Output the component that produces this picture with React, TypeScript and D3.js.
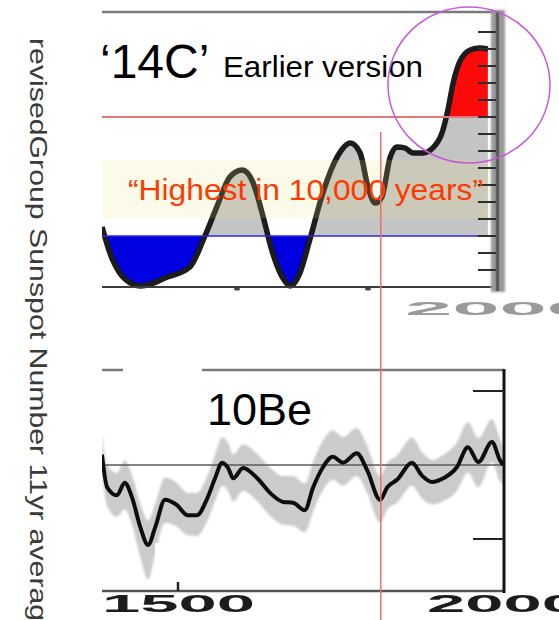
import React from "react";
import * as d3 from "d3";

// ---------- data ----------
// Upper panel: '14C' based sunspot reconstruction (earlier version)
const TOP_YEARS = [1394, 1406, 1421, 1437, 1452, 1462, 1490, 1528, 1551, 1569, 1589, 1608, 1624, 1640, 1653, 1669, 1681, 1696, 1711, 1731, 1753, 1773, 1788, 1800, 1811, 1821, 1834, 1844, 1856, 1869, 1884, 1899, 1913, 1922, 1930, 1940, 1956, 1971, 1983];
const TOP_VALUES = [35.3, 20.0, 8.2, 2.4, 0.6, 1.0, 5.3, 11.8, 30.0, 47.0, 64.7, 68.8, 61.8, 41.2, 21.8, 5.9, 0.6, 8.2, 27.6, 55.3, 76.5, 84.7, 78.8, 58.8, 49.4, 52.9, 76.5, 82.4, 81.8, 78.8, 78.8, 81.8, 90.6, 104.1, 120.0, 132.4, 139.4, 140.6, 140.0];
const TOP_Y_TICKS = [10, 20, 30, 40, 50, 60, 70, 80, 90, 100, 110, 120, 130, 140, 150];
const TOP_X_TICKS = [1600, 1800];
const TOP_X_LABELS = ["2000"];
const TOP_X_LABEL_YEARS = [2000];
const BLUE_LEVEL = 30;
const RED_LEVEL = 100;

// Lower panel: 10Be record with uncertainty band
const BE_YEARS = [1383, 1391, 1406, 1418, 1429, 1442, 1454, 1465, 1480, 1498, 1515, 1529, 1545, 1557, 1568, 1577, 1585, 1600, 1622, 1642, 1662, 1677, 1695, 1708, 1723, 1738, 1754, 1775, 1791, 1811, 1822, 1837, 1860, 1875, 1891, 1908, 1929, 1946, 1962, 1983, 1995, 2000];
const BE_VALUES = [0.14, -0.30, -0.41, -0.24, -0.43, -0.84, -1.08, -0.84, -0.47, -0.54, -0.68, -0.68, -0.45, -0.18, 0.03, -0.04, -0.18, -0.04, -0.18, -0.38, -0.50, -0.51, -0.61, -0.30, -0.03, 0.11, 0.03, 0.16, -0.07, -0.47, -0.30, -0.20, 0.03, -0.14, -0.23, -0.18, -0.03, 0.24, 0.04, 0.31, 0.07, 0.00];
const BE_HIGH = [0.44, 0.00, -0.11, 0.06, -0.13, -0.52, -0.75, -0.52, -0.17, -0.24, -0.38, -0.38, -0.15, 0.14, 0.37, 0.30, 0.14, 0.28, 0.15, -0.04, -0.15, -0.15, -0.25, 0.05, 0.33, 0.47, 0.38, 0.50, 0.26, -0.15, 0.03, 0.13, 0.37, 0.18, 0.07, 0.14, 0.30, 0.58, 0.36, 0.62, 0.36, 0.25];
const BE_LOW = [-0.13, -0.55, -0.70, -0.60, -0.80, -1.25, -1.55, -1.20, -0.78, -0.83, -0.95, -0.96, -0.76, -0.49, -0.28, -0.35, -0.49, -0.35, -0.49, -0.69, -0.81, -0.82, -0.91, -0.62, -0.34, -0.20, -0.28, -0.15, -0.38, -0.78, -0.60, -0.51, -0.28, -0.45, -0.53, -0.49, -0.35, -0.10, -0.30, 0.04, -0.22, -0.25];
const BE_Y_TICKS = [-1, 1];
const BE_X_TICKS = [1500];
const BE_X_LABELS = ["1500", "2000"];
const BE_X_LABEL_YEARS = [1500, 2000];
const MARK_YEAR = 1812;

const Y_AXIS_TITLE = "revisedGroup Sunspot Number 11yr average";
const FONT = "'Liberation Sans', Arial, Helvetica, sans-serif";

export default function App() {
  const W = 559;
  const H = 620;
  const L = 102;

  const xTop = d3.scaleLinear().domain([1600, 2000]).range([237, 499]);
  const yTop = d3.scaleLinear().domain([0, 150]).range([287, 32]);
  const xBot = d3.scaleLinear().domain([1500, 2000]).range([178, 503]);
  const yBot = d3.scaleLinear().domain([-1, 1]).range([539, 391]);

  const topData = TOP_YEARS.map((yr, i) => ({ yr, v: TOP_VALUES[i] }));
  const beData = BE_YEARS.map((yr, i) => ({ yr, v: BE_VALUES[i], hi: BE_HIGH[i], lo: BE_LOW[i] }));

  const topLine = d3.line<any>().x((d) => xTop(d.yr)).y((d) => yTop(d.v)).curve(d3.curveMonotoneX);
  const topArea = d3
    .area<any>()
    .x((d) => xTop(d.yr))
    .y0(yTop(BLUE_LEVEL))
    .y1((d) => yTop(d.v))
    .curve(d3.curveMonotoneX);

  const beLine = d3.line<any>().x((d) => xBot(d.yr)).y((d) => yBot(d.v)).curve(d3.curveMonotoneX);
  const beBand = d3
    .area<any>()
    .x((d) => xBot(d.yr))
    .y0((d) => yBot(d.lo))
    .y1((d) => yBot(d.hi))
    .curve(d3.curveMonotoneX);

  const yBlue = yTop(BLUE_LEVEL);
  const yRed = yTop(RED_LEVEL);
  const xMark = xBot(MARK_YEAR);
  const topRight = 497;
  const botRight = 504;

  return (
    <svg
      width={W}
      height={H}
      viewBox={`0 0 ${W} ${H}`}
      style={{ position: "absolute", left: 0, top: 0, display: "block", background: "#fff" }}
    >
      <defs>
        <filter id="blurS" filterUnits="userSpaceOnUse" x={0} y={0} width={W} height={H}>
          <feGaussianBlur stdDeviation={0.7} />
        </filter>
        <filter id="blurM" filterUnits="userSpaceOnUse" x={0} y={0} width={W} height={H}>
          <feGaussianBlur stdDeviation={1.2} />
        </filter>
        <clipPath id="clipBlue">
          <rect x={L} y={yBlue} width={400} height={80} />
        </clipPath>
        <clipPath id="clipGrey">
          <rect x={L} y={yRed} width={400} height={yBlue - yRed} />
        </clipPath>
        <clipPath id="clipRed">
          <rect x={L} y={0} width={400} height={yRed} />
        </clipPath>
        <clipPath id="clipTopPanel">
          <rect x={L} y={0} width={400} height={300} />
        </clipPath>
        <clipPath id="clipBotPanel">
          <rect x={L} y={360} width={402} height={240} />
        </clipPath>
      </defs>

      <rect x={0} y={0} width={W} height={H} fill="#fff" />

      {/* ---------- Left title ---------- */}
      <text
        transform={`translate(30,38) rotate(90)`}
        fontFamily={FONT}
        fontSize={24}
        fill="#3a3a3a"
        textLength={600}
        lengthAdjust="spacingAndGlyphs"
      >
        {Y_AXIS_TITLE}
      </text>

      {/* ---------- Upper panel ---------- */}
      <g clipPath="url(#clipTopPanel)">
        <path d={topArea(topData) || ""} fill="#c4c4c4" clipPath="url(#clipGrey)" />
        <path d={topArea(topData) || ""} fill="#0000e0" clipPath="url(#clipBlue)" />
        <path d={topArea(topData) || ""} fill="#ff0a0a" clipPath="url(#clipRed)" />
        <path
          d={topLine(topData) || ""}
          fill="none"
          stroke="#1a1a1a"
          strokeWidth={5.5}
          strokeLinejoin="round"
          filter="url(#blurS)"
        />
      </g>

      {/* beige highlight band */}
      <rect x={L} y={160} width={403} height={58} fill="rgb(237,226,120)" fillOpacity={0.17} />

      {/* reference lines */}
      <line x1={L} x2={topRight} y1={yRed} y2={yRed} stroke="#e07a7a" strokeWidth={2} />
      <line x1={L} x2={topRight} y1={yBlue} y2={yBlue} stroke="#2a2ad0" strokeWidth={1.6} />

      {/* frame & axes */}
      <line x1={L} x2={topRight} y1={12} y2={12} stroke="#7a7a7a" strokeWidth={2.5} filter="url(#blurS)" />
      <line x1={L} x2={topRight} y1={yTop(0)} y2={yTop(0)} stroke="#3a3a3a" strokeWidth={2} filter="url(#blurS)" />
      {TOP_X_TICKS.map((t) => (
        <ellipse key={t} cx={xTop(t)} cy={yTop(0) + 2} rx={3} ry={1.6} fill="#444" filter="url(#blurS)" />
      ))}
      <rect x={491} y={10} width={14} height={282} fill="#9a9a9a" filter="url(#blurM)" />
      <line x1={497.5} x2={497.5} y1={11} y2={291} stroke="#5c5c5c" strokeWidth={3.5} filter="url(#blurS)" />
      {TOP_Y_TICKS.map((t) => (
        <line key={t} x1={478} x2={496} y1={yTop(t)} y2={yTop(t)} stroke="#2e2e2e" strokeWidth={2} filter="url(#blurS)" />
      ))}
      {TOP_X_LABELS.map((lab, i) => (
        <text
          key={lab}
          x={xTop(TOP_X_LABEL_YEARS[i]) - 94}
          y={315}
          fontFamily={FONT}
          fontWeight="bold"
          fontSize={18.5}
          fill="#9a9a9a"
          textLength={189}
          lengthAdjust="spacingAndGlyphs"
          filter="url(#blurS)"
        >
          {lab}
        </text>
      ))}

      {/* texts */}
      <text x={100} y={78} fontFamily={FONT} fontSize={48} fill="#000">
        ‘14C’
      </text>
      <text x={223} y={77} fontFamily={FONT} fontSize={29} fill="#000" textLength={200} lengthAdjust="spacingAndGlyphs">
        Earlier version
      </text>
      <text
        x={128}
        y={200}
        fontFamily={FONT}
        fontSize={30}
        fill="#ff3a00"
        textLength={355}
        lengthAdjust="spacingAndGlyphs"
      >
        “Highest in 10,000 years”
      </text>

      {/* highlight circle */}
      <ellipse cx={469} cy={85} rx={81} ry={78} fill="none" stroke="#c25bd8" strokeWidth={1.5} />

      {/* ---------- Lower panel ---------- */}
      <g clipPath="url(#clipBotPanel)">
        <path d={beBand(beData) || ""} fill="#cbcbcb" filter="url(#blurM)" />
      </g>
      <line x1={L} x2={botRight} y1={yBot(0)} y2={yBot(0)} stroke="#5a5a5a" strokeWidth={1.6} />
      <g clipPath="url(#clipBotPanel)">
        <path
          d={beLine(beData) || ""}
          fill="none"
          stroke="#111"
          strokeWidth={4}
          strokeLinejoin="round"
          filter="url(#blurS)"
        />
      </g>
      <line x1={L} x2={botRight} y1={370} y2={370} stroke="#7a7a7a" strokeWidth={2.5} filter="url(#blurS)" />
      <line x1={L} x2={botRight + 1} y1={591} y2={591} stroke="#555" strokeWidth={2.5} filter="url(#blurS)" />
      <line x1={botRight} x2={botRight} y1={369} y2={593} stroke="#111" strokeWidth={3} />
      {BE_Y_TICKS.map((t) => (
        <line key={t} x1={473} x2={botRight} y1={yBot(t)} y2={yBot(t)} stroke="#222" strokeWidth={2} />
      ))}
      {BE_X_TICKS.map((t) => (
        <line key={t} x1={xBot(t)} x2={xBot(t)} y1={582} y2={591} stroke="#222" strokeWidth={2.5} />
      ))}

      {/* white masks present in the original */}
      <rect x={123} y={368} width={79} height={29} fill="#fff" />
      <rect x={155} y={543} width={78} height={25} fill="#fff" />

      <text x={207} y={425} fontFamily={FONT} fontSize={45} fill="#000">
        10Be
      </text>

      {BE_X_LABELS.map((lab, i) => (
        <text
          key={lab}
          x={xBot(BE_X_LABEL_YEARS[i]) - 76}
          y={612}
          fontFamily={FONT}
          fontWeight="bold"
          fontSize={24}
          fill="#1e1e1e"
          textLength={153}
          lengthAdjust="spacingAndGlyphs"
          filter="url(#blurS)"
        >
          {lab}
        </text>
      ))}

      {/* vertical marker line across panels */}
      <line x1={xMark} x2={xMark} y1={132} y2={H} stroke="#e86f6f" strokeWidth={1.5} />
    </svg>
  );
}
